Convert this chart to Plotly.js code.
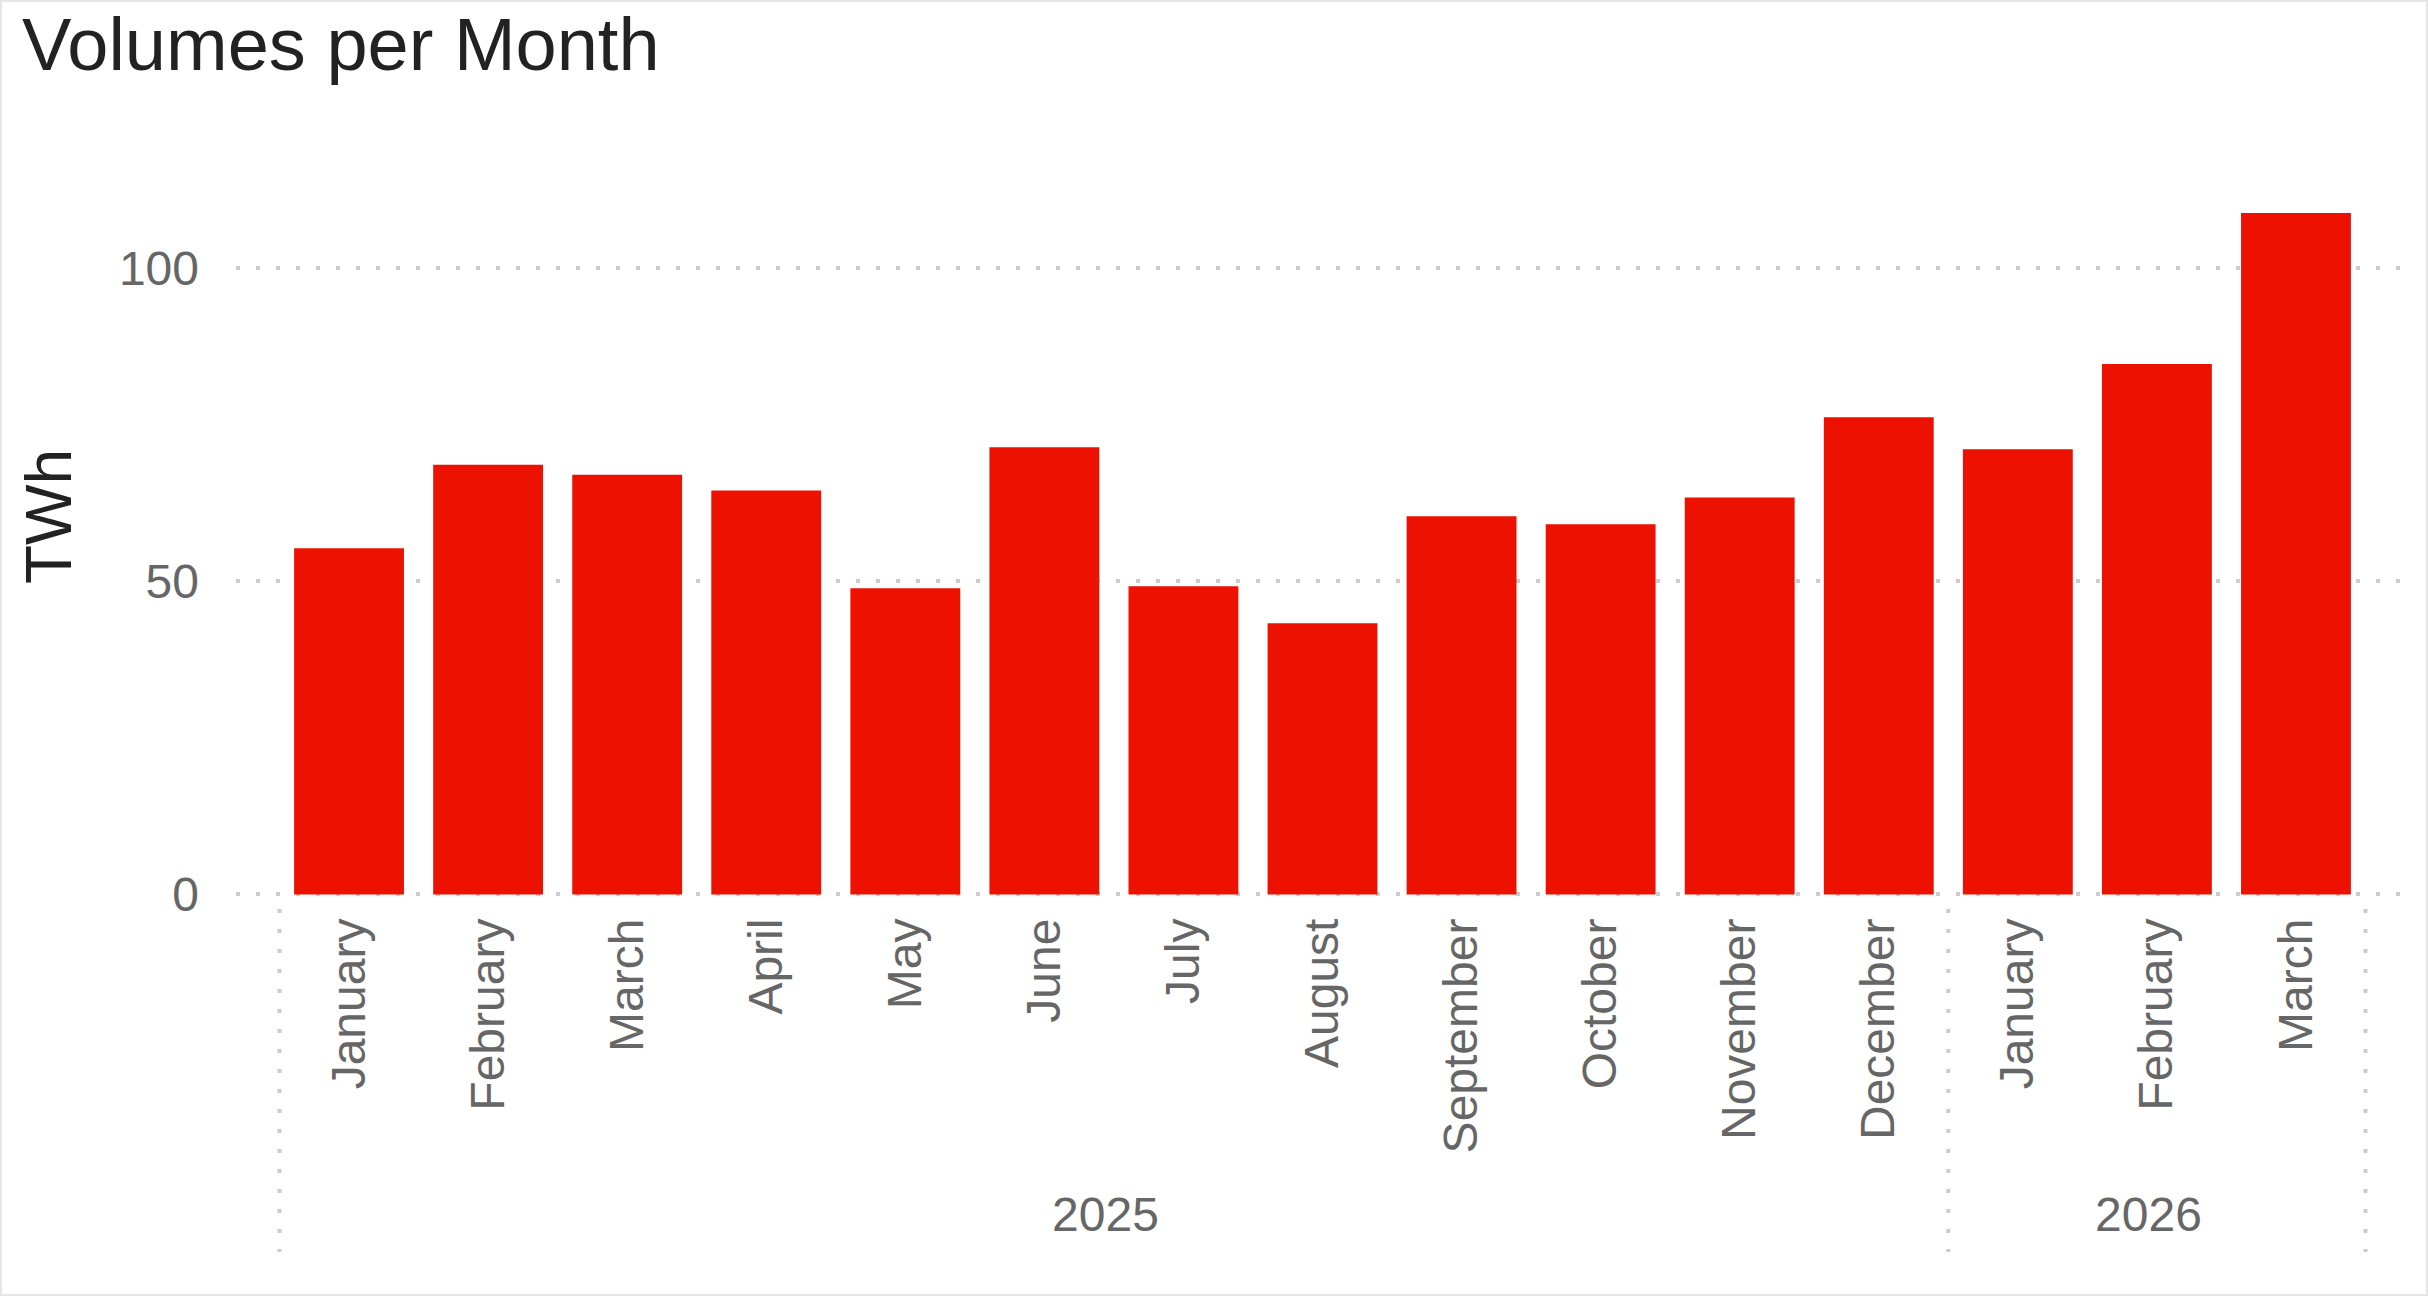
<!DOCTYPE html>
<html>
<head>
<meta charset="utf-8">
<script src="https://cdn.plot.ly/plotly-3.0.1.min.js"></script>
<style>
  html, body { margin: 0; padding: 0; background: #ffffff; }
  #chart { width: 2424px; height: 1292px; border: 2px solid #e6e6e6; }
</style>
</head>
<body>
<div id="chart"></div>
<script>
// ---- data ----
const years = ['2025','2025','2025','2025','2025','2025','2025','2025','2025','2025','2025','2025','2026','2026','2026'];
const months = ['January','February','March','April','May','June','July','August','September','October','November','December','January','February','March'];
const volumes = [55.3, 68.6, 67.0, 64.5, 48.9, 71.4, 49.2, 43.3, 60.4, 59.1, 63.4, 76.2, 71.1, 84.7, 108.8];
const yTickVals = [0, 50, 100];
const chartTitle = 'Volumes per Month';
const yTitle = 'TWh';

// ---- layout helpers ----
const FONT = 'Liberation Sans, Arial, sans-serif';
const W = 2424, H = 1292;
const mL = 234, mR = 18, mT = 134, mB = 397;
const xRange = [-0.8128, 14.8056];
const yRange = [-0.4, 121.1];

// group boundaries (dotted dividers) derived from the year array
const bounds = [-0.5];
for (let i = 1; i < years.length; i++) {
  if (years[i] !== years[i-1]) bounds.push(i - 0.5);
}
bounds.push(years.length - 0.5);
const toPaperX = b => (b - xRange[0]) / (xRange[1] - xRange[0]);
const plotH = H - mT - mB;
const shapes = bounds.map(b => ({
  type: 'line', xref: 'paper', yref: 'paper',
  x0: toPaperX(b), x1: toPaperX(b),
  y0: -12 / plotH, y1: -355 / plotH,
  line: { color: '#cccccc', width: 4, dash: '4px,16px' },
  layer: 'below'
}));

const trace = {
  type: 'bar',
  x: [years, months],
  y: volumes,
  marker: { color: 'rgb(236,17,0)' },
  hoverinfo: 'skip'
};

const layout = {
  width: W, height: H,
  margin: { l: mL, r: mR, t: mT, b: mB, pad: 0 },
  paper_bgcolor: '#ffffff',
  plot_bgcolor: '#ffffff',
  showlegend: false,
  bargap: 0.21,
  font: { family: FONT, color: '#666666', size: 48 },
  title: {
    text: chartTitle,
    font: { family: FONT, size: 74, color: '#222222' },
    xref: 'container', yref: 'container',
    x: 20 / W, xanchor: 'left',
    y: 1 - 16 / H, yanchor: 'top'
  },
  xaxis: {
    type: 'multicategory',
    range: xRange,
    showgrid: false,
    zeroline: false,
    showline: false,
    ticks: '',
    showdividers: false,
    tickangle: -90,
    ticklabelstandoff: 11,
    tickfont: { family: FONT, size: 48, color: '#666666' },
    automargin: false
  },
  yaxis: {
    range: yRange,
    tickvals: yTickVals,
    showgrid: true,
    gridcolor: '#cccccc',
    gridwidth: 4,
    griddash: '4px,16px',
    zeroline: false,
    showline: false,
    ticks: '',
    ticklabelstandoff: 36,
    tickfont: { family: FONT, size: 48, color: '#666666' },
    title: { text: yTitle, font: { family: FONT, size: 64, color: '#222222' }, standoff: 26 },
    automargin: false
  },
  shapes: shapes
};

Plotly.newPlot('chart', [trace], layout, { staticPlot: true, displayModeBar: false });
</script>
</body>
</html>
